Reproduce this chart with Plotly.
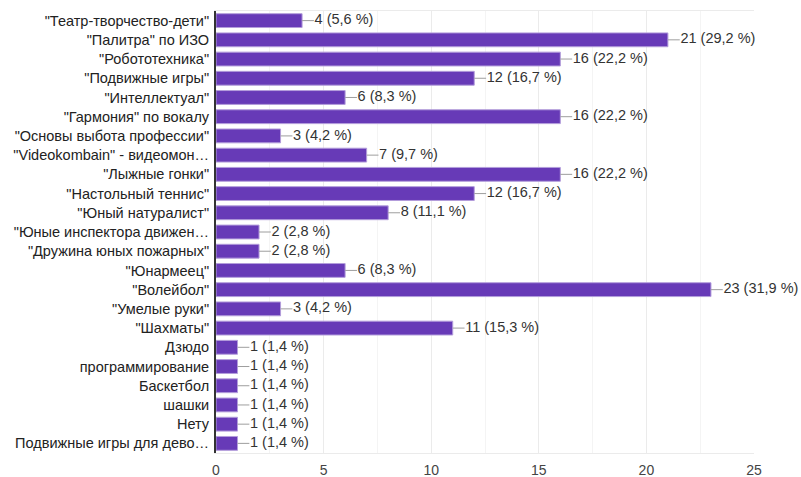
import plotly.graph_objects as go

categories = [
    '"Театр-творчество-дети"', '"Палитра" по ИЗО', '"Робототехника"', '"Подвижные игры"',
    '"Интеллектуал"', '"Гармония" по вокалу', '"Основы выбота профессии"',
    '"Videokombain" - видеомон…', '"Лыжные гонки"', '"Настольный теннис"',
    '"Юный натуралист"', '"Юные инспектора движен…', '"Дружина юных пожарных"',
    '"Юнармеец"', '"Волейбол"', '"Умелые руки"', '"Шахматы"', 'Дзюдо',
    'программирование', 'Баскетбол', 'шашки', 'Нету', 'Подвижные игры для дево…'
]
values = [4, 21, 16, 12, 6, 16, 3, 7, 16, 12, 8, 2, 2, 6, 23, 3, 11, 1, 1, 1, 1, 1, 1]
percents = ["5,6", "29,2", "22,2", "16,7", "8,3", "22,2", "4,2", "9,7", "22,2", "16,7",
            "11,1", "2,8", "2,8", "8,3", "31,9", "4,2", "15,3", "1,4", "1,4", "1,4",
            "1,4", "1,4", "1,4"]
x_ticks = [0, 5, 10, 15, 20, 25]

labels = [f"{v} ({p} %)" for v, p in zip(values, percents)]

FONT = "Liberation Sans, Arial"

fig = go.Figure()
fig.add_trace(go.Bar(
    y=categories, x=values, orientation="h",
    marker=dict(color="#673ab7", line=dict(color="#b39ddb", width=1)),
    width=0.72, hoverinfo="skip",
))

# connector lines
lx, ly = [], []
for c, v in zip(categories, values):
    lx += [v, v + 0.55, None]
    ly += [c, c, None]
fig.add_trace(go.Scatter(x=lx, y=ly, mode="lines", line=dict(color="#9e9e9e", width=1),
                         hoverinfo="skip"))
fig.add_trace(go.Scatter(
    x=[v + 0.58 for v in values], y=categories, mode="text", text=labels,
    textposition="middle right",
    textfont=dict(family=FONT, size=14.5, color="#333333"),
    hoverinfo="skip", cliponaxis=False,
))

fig.update_layout(
    width=801, height=477,
    margin=dict(l=216, r=47, t=11, b=24),
    paper_bgcolor="white", plot_bgcolor="white",
    showlegend=False,
    font=dict(family=FONT, size=13, color="#333333"),
)
fig.update_xaxes(
    range=[0, 25], tickvals=x_ticks, ticktext=[str(t) for t in x_ticks],
    showgrid=True, gridcolor="#ebebeb", gridwidth=1,
    minor=dict(dtick=2.5, showgrid=True, gridcolor="#f4f4f4"),
    zeroline=False, showline=True, mirror=True, linecolor="#ebebeb",
    tickfont=dict(family=FONT, size=14, color="#444444"), ticks="",
    ticklabelstandoff=4, automargin=False,
)
fig.update_yaxes(
    categoryorder="array", categoryarray=categories,
    range=[len(categories) - 0.5, -0.5],
    showline=True, linecolor="#333333", linewidth=2, ticks="",
    tickfont=dict(family=FONT, size=14.5, color="#222222"), ticklabelstandoff=2,
    showgrid=False, automargin=False,
)

fig.write_html("out.html", config={"displayModeBar": False},
               post_script="document.body.style.margin='0';document.body.style.overflow='hidden';")
